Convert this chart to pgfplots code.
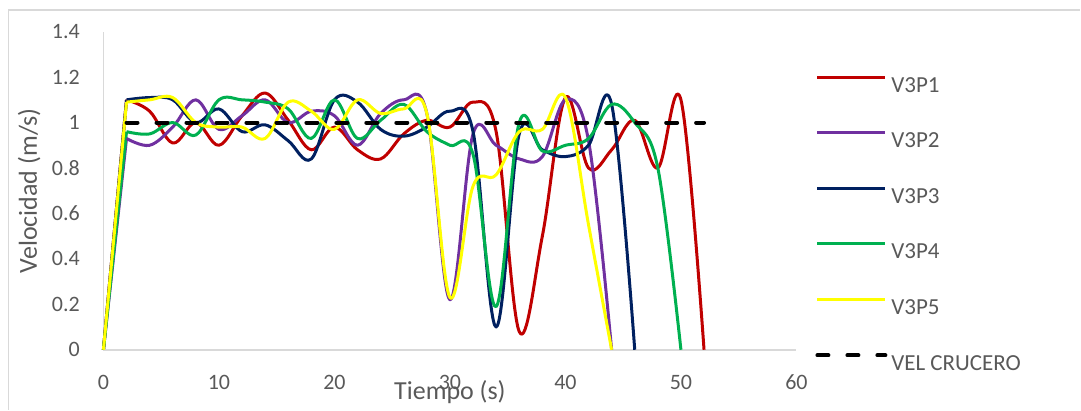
\documentclass[border=0pt]{standalone}
\usepackage{pgfplots}
\pgfplotsset{compat=1.18}
\usepackage{fontspec}
\setmainfont{Carlito}
\definecolor{txt}{HTML}{595959}
\definecolor{axl}{HTML}{D9D9D9}
\definecolor{cA}{HTML}{C00000}
\definecolor{cB}{HTML}{7030A0}
\definecolor{cC}{HTML}{002060}
\definecolor{cD}{HTML}{00B050}
\definecolor{cE}{HTML}{FFFF00}
\begin{document}
\begin{tikzpicture}
\path (-103.5bp,-60bp) rectangle (977.5bp,350bp);
\draw[axl, line width=1.5bp] (-95.2bp,-60bp) -- (-95.2bp,340bp) -- (977.5bp,340bp);
\begin{axis}[
  scale only axis, width=693.5bp, height=318.3bp,
  xmin=0, xmax=60, ymin=0, ymax=1.4,
  clip=false,
  axis lines=left,
  axis line style={-, draw=axl, line width=1.5bp},
  major tick length=0pt,
  xtick={0,10,20,30,40,50,60},
  ytick={0,0.2,0.4,0.6,0.8,1,1.2,1.4},
  yticklabels={0,0.2,0.4,0.6,0.8,1,1.2,1.4},
  xticklabels={0,10,20,30,40,50,60},
  tick label style={font=\fontsize{22bp}{26bp}\selectfont, text=txt, inner sep=0pt},
  yticklabel style={anchor=east, xshift=-23.5bp},
  xticklabel style={anchor=base, yshift=-39.5bp},
  xlabel={Tiempo (s)},
  xlabel style={at={(axis description cs:0.5,-0.1571)}, anchor=base, inner sep=0pt,
    font=\fontsize{26bp}{30bp}\selectfont, text=txt},
  ylabel={Velocidad (m/s)},
  ylabel style={at={(axis description cs:-0.0959,0.5)}, anchor=base, inner sep=0pt,
    font=\fontsize{26bp}{30bp}\selectfont, text=txt},
  legend style={at={(1.0274,0.8618)}, anchor=north west, draw=none, fill=none,
    inner sep=0pt, outer sep=0pt, row sep=39.2bp, column sep=4bp,
    font=\fontsize{23bp}{27bp}\selectfont, text=txt,
    nodes={inner sep=0pt, text height=15bp, text depth=0bp}},
  legend cell align=left,
  legend image code/.code={\draw[#1] (0bp,7.4bp) -- (68bp,7.4bp);},
  every axis plot/.append style={line width=3bp, line join=round, smooth, tension=0.6},
]
% ramps from rest (0 s to 2 s)
\addplot[cA, sharp plot, forget plot] coordinates {(0,0)(2,1.1)};
\addplot[cB, sharp plot, forget plot] coordinates {(0,0)(2,0.93)};
\addplot[cC, sharp plot, forget plot] coordinates {(0,0)(2,1.1)};
\addplot[cD, sharp plot, forget plot] coordinates {(0,0)(2,0.96)};
\addplot[cE, sharp plot, forget plot] coordinates {(0,0)(2,1.09)};
\addplot[cA] coordinates {(2,1.1)(4,1.05)(6,0.91)(8,1.0)(10,0.9)(12,1.03)(14,1.13)(16,1.01)(18,0.88)(20,0.98)(22,0.88)(24,0.84)(26,0.95)(28,1.01)(30,0.98)(32,1.09)(34,0.96)(36,0.08)(38,0.5)(40,1.11)(42,0.8)(44,0.88)(46,1.01)(48,0.8)(50,1.1)(52,0)};
\addlegendentry{V3P1}
\addplot[cB] coordinates {(2,0.93)(4,0.9)(6,0.98)(8,1.1)(10,0.97)(12,1.03)(14,1.1)(16,1.0)(18,1.05)(20,1.03)(22,0.9)(24,1.04)(26,1.1)(28,1.04)(30,0.22)(32,0.95)(34,0.9)(36,0.84)(38,0.85)(40,1.1)(42,0.92)(44,0)};
\addlegendentry{V3P2}
\addplot[cC] coordinates {(2,1.1)(4,1.11)(6,1.1)(8,1.0)(10,1.06)(12,0.96)(14,0.99)(16,0.92)(18,0.84)(20,1.1)(22,1.09)(24,0.97)(26,0.94)(28,0.98)(30,1.05)(32,0.96)(34,0.1)(36,0.95)(38,0.88)(40,0.85)(42,0.9)(44,1.08)(46,0)};
\addlegendentry{V3P3}
\addplot[cD] coordinates {(2,0.96)(4,0.95)(6,1.0)(8,0.945)(10,1.1)(12,1.1)(14,1.09)(16,1.06)(18,0.93)(20,1.1)(22,0.93)(24,1.01)(26,1.08)(28,0.96)(30,0.9)(32,0.86)(34,0.19)(36,1.0)(38,0.875)(40,0.9)(42,0.93)(44,1.08)(46,1.0)(48,0.8)(50,0)};
\addlegendentry{V3P4}
\addplot[cE] coordinates {(2,1.09)(4,1.1)(6,1.11)(8,1.0)(10,0.98)(12,0.98)(14,0.93)(16,1.09)(18,1.05)(20,0.97)(22,1.1)(24,1.04)(26,1.06)(28,1.04)(30,0.23)(32,0.72)(34,0.77)(36,0.96)(38,0.97)(40,1.11)(42,0.55)(44,0)};
\addlegendentry{V3P5}
\addplot[black, line width=4bp, sharp plot, line cap=round, dash pattern=on 11bp off 19bp] coordinates {(2,1)(52,1)};
\addlegendentry{VEL CRUCERO}
\end{axis}
\end{tikzpicture}
\end{document}
